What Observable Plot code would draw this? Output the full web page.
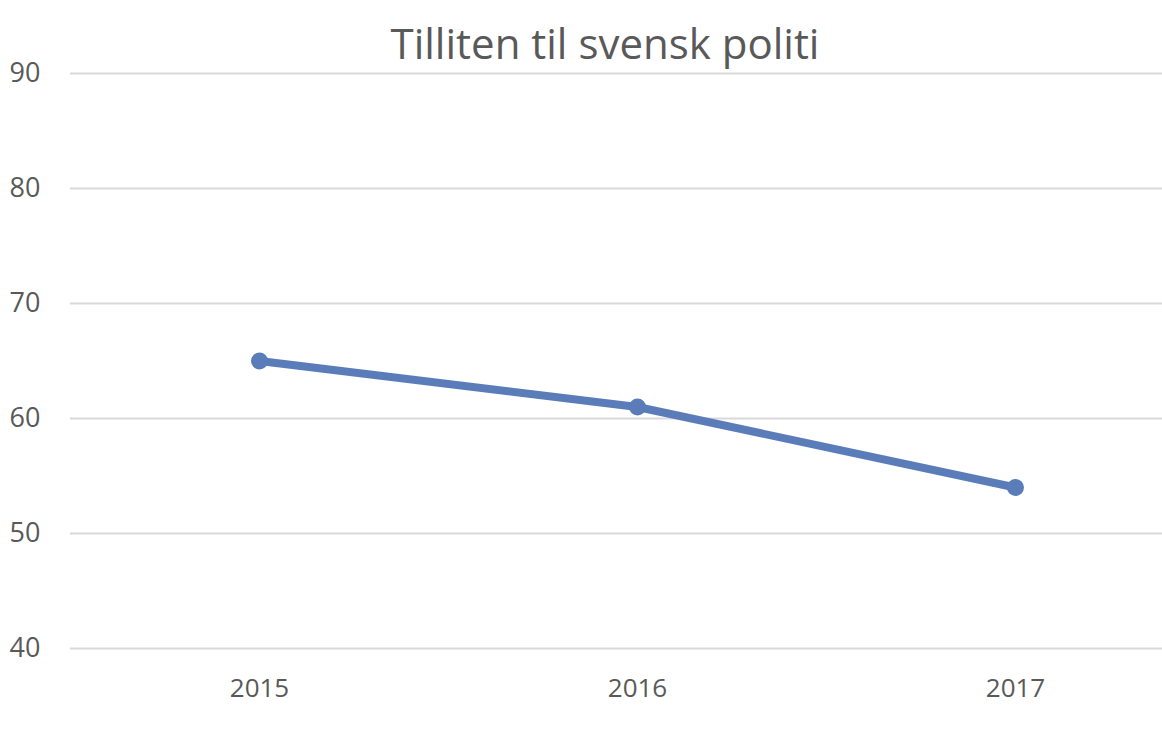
<!DOCTYPE html>
<html><head><meta charset="utf-8">
<script src="https://cdn.jsdelivr.net/npm/d3@7"></script>
<script src="https://cdn.jsdelivr.net/npm/@observablehq/plot@0.6"></script>
<style>
body{margin:0;background:#fff;overflow:hidden;}
#titlebox{height:50px;position:relative;}
#title{position:absolute;left:0;right:0;top:16px;text-align:center;font-family:"Open Sans",sans-serif;font-size:42px;color:#595959;line-height:54px;padding-left:48px;}
#chart svg{overflow:visible;}
</style></head><body>
<div id="titlebox"><div id="title">Tilliten til svensk politi</div></div>
<div id="chart"></div>
<script>
const years = ["2015","2016","2017"];
const values = [65, 61, 54];
const yTicks = [40,50,60,70,80,90];
const data = years.map((y,i)=>({year:y, value:values[i]}));
const chart = Plot.plot({
  width:1162, height:684,
  marginTop:23, marginBottom:86, marginLeft:70, marginRight:-42,
  style:{fontFamily:"Open Sans, sans-serif", color:"#595959", background:"white", overflow:"visible"},
  x:{type:"band", domain:years, padding:0, label:null},
  y:{domain:[40,90], ticks:yTicks, label:null},
  marks:[
    Plot.ruleY(yTicks, {stroke:"#d9d9d9", strokeWidth:2}),
    Plot.axisY({ticks:yTicks, tickSize:0, tickPadding:30, fontSize:27, fill:"#595959", label:null}),
    Plot.axisX({tickSize:0, tickPadding:30, fontSize:26, fill:"#595959", label:null}),
    Plot.line(data, {x:"year", y:"value", stroke:"#5a7dba", strokeWidth:8, strokeLinecap:"round"}),
    Plot.dot(data, {x:"year", y:"value", r:8.5, fill:"#5a7dba", stroke:"none"})
  ]
});
document.getElementById("chart").appendChild(chart);
</script>
</body></html>
